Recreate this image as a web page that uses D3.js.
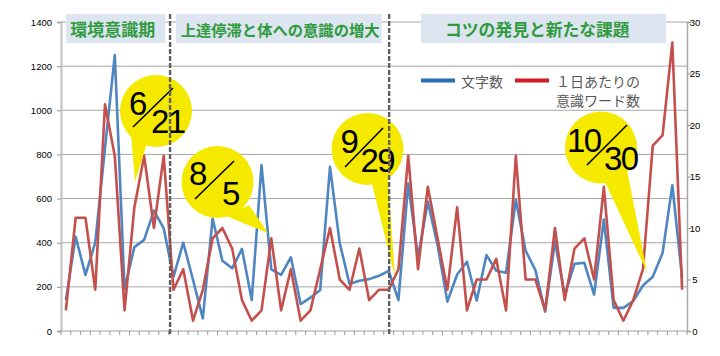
<!DOCTYPE html>
<html><head><meta charset="utf-8">
<script src="https://cdn.jsdelivr.net/npm/d3@7/dist/d3.min.js"></script>
<style>
body{margin:0;background:#fff;}
svg{display:block;}
</style></head>
<body>
<svg id="c" width="720" height="356"></svg>
<script>
// ---- data ----
const charCount = [140,427,254,400,830,1250,190,380,413,545,465,246,400,231,57,510,318,284,372,140,752,279,254,334,122,151,186,744,397,213,228,235,250,272,140,668,334,586,390,133,256,314,138,344,273,264,594,364,276,88,405,163,304,309,165,505,105,105,136,206,246,353,660,242];
const wordsPerDay = [2,11,11,4,22,17,2,12,17,10,17,4,6,1,4,9,10,8,3,1,2,9,2,6,1,2,6,10,5,4,8,3,4,4,6,17,6,14,9,4,12,2,5,5,7,2,17,5,5,2,10,3,8,9,5,14,3,1,3,6,18,19,28,4];
const categories = charCount.map((_, i) => i);
const leftTicks = [0,200,400,600,800,1000,1200,1400];
const rightTicks = [0,5,10,15,20,25,30];
const seriesNames = ["文字数", ["１日あたりの","意識ワード数"]];
const periodNames = ["環境意識期","上達停滞と体への意識の増大","コツの発見と新たな課題"];
const calloutTop = ["6","8","9","10"];
const calloutBottom = ["21","5","29","30"];

// ---- layout ----
const svg = d3.select("#c");
const L = 61, R = 687, T = 22, B = 331;
const x = d3.scaleBand().domain(categories).range([L, R]).padding(0);
const cx = i => x(i) + x.bandwidth()/2;
const yL = d3.scaleLinear().domain([0,1400]).range([B, T]);
const yR = d3.scaleLinear().domain([0,30]).range([B, T]);
const xf = v => L + v * x.bandwidth(); // fractional category position

// gridlines
svg.append("g").selectAll("line").data(leftTicks.filter(d=>d>0)).join("line")
  .attr("x1", L).attr("x2", R).attr("y1", d=>yL(d)).attr("y2", d=>yL(d))
  .attr("stroke", "#a6a6a6").attr("stroke-width", 1);

// left axis
const gL = svg.append("g").attr("transform", `translate(${L},0)`)
  .call(d3.axisLeft(yL).tickValues(leftTicks).tickFormat(d3.format("d")).tickSize(4).tickPadding(5));
gL.select(".domain").attr("stroke", "#bfbfbf").attr("stroke-width", 2);
gL.selectAll(".tick line").attr("stroke", "#999");
gL.selectAll("text").attr("font-family", "Liberation Sans, Arial, sans-serif").attr("font-size", "9.5px").attr("fill", "#000");

// right axis
const gR = svg.append("g").attr("transform", `translate(${R},0)`)
  .call(d3.axisRight(yR).tickValues(rightTicks).tickFormat(d3.format("d")).tickSize(4).tickPadding(3));
gR.select(".domain").attr("stroke", "#a6a6a6").attr("stroke-width", 1.5);
gR.selectAll(".tick line").attr("stroke", "#999");
gR.selectAll("text").attr("font-family", "Liberation Sans, Arial, sans-serif").attr("font-size", "9.5px").attr("fill", "#000")
  .attr("text-anchor", "middle").attr("x", 8);

// bottom axis with band boundary ticks
svg.append("line").attr("x1", L).attr("x2", R).attr("y1", B).attr("y2", B).attr("stroke", "#bfbfbf").attr("stroke-width", 1.5);
svg.append("g").selectAll("line").data(categories.concat([categories.length])).join("line")
  .attr("x1", d=>xf(d)).attr("x2", d=>xf(d)).attr("y1", B).attr("y2", B+4)
  .attr("stroke", "#999").attr("stroke-width", 1);

// header boxes
const periods = [
  {name: periodNames[0], a: 0.5, b: 10.65, size: 17, tc: 5.3},
  {name: periodNames[1], a: 11.75, b: 32.8, size: 15.3, tc: 22.4},
  {name: periodNames[2], a: 36.8, b: 61.85, size: 16.8, tc: 48.7}
];
const hg = svg.append("g");
hg.selectAll("rect").data(periods).join("rect")
  .attr("x", d=>xf(d.a)).attr("width", d=>xf(d.b)-xf(d.a))
  .attr("y", 14).attr("height", 29).attr("fill", "#dde6f0");
hg.selectAll("text").data(periods).join("text")
  .attr("x", d=>xf(d.tc)).attr("y", 35.5).attr("text-anchor", "middle")
  .attr("font-family", "Noto Sans CJK JP, sans-serif").attr("font-weight", "bold")
  .attr("font-size", d=>d.size+"px").attr("fill", "#2f9a3e").text(d=>d.name);

// lines
const lineL = d3.line().x((d,i)=>cx(i)).y(d=>yL(d));
const lineR = d3.line().x((d,i)=>cx(i)).y(d=>yR(d));
svg.append("path").datum(charCount).attr("d", lineL).attr("fill","none")
  .attr("stroke", "#4f86c2").attr("stroke-width", 2.6).attr("stroke-linejoin","round");
svg.append("path").datum(wordsPerDay).attr("d", lineR).attr("fill","none")
  .attr("stroke", "#c4504d").attr("stroke-width", 2.6).attr("stroke-linejoin","round");

// legend
const lg = svg.append("g").attr("font-family", "Noto Sans CJK JP, sans-serif").attr("font-size", "14px").attr("fill", "#595959");
lg.append("line").attr("x1", 421).attr("x2", 455).attr("y1", 80.5).attr("y2", 80.5).attr("stroke", "#2a6db5").attr("stroke-width", 4);
lg.append("text").attr("x", 461).attr("y", 86.5).text(seriesNames[0]);
lg.append("line").attr("x1", 515).attr("x2", 549).attr("y1", 80.5).attr("y2", 80.5).attr("stroke", "#cf1c27").attr("stroke-width", 4);
lg.append("text").attr("x", 556).attr("y", 86.5).text(seriesNames[1][0]);
lg.append("text").attr("x", 556).attr("y", 105.5).text(seriesNames[1][1]);

// callouts
const callouts = [
  {c:[156,111], tail:[[131,133],[147,143],[135,182]], t:[129,115], b:[151,133], s:[[133,127],[173,88]]},
  {c:[217.5,182], tail:[[226,216],[249,205],[268,233]], t:[189,185], b:[222,205], s:[[195,199],[234,161]]},
  {c:[367.5,149], tail:[[372,184],[388,179],[395,277]], t:[340.5,153], b:[360.5,172], s:[[345,167],[383,128]]},
  {c:[601,147.5], tail:[[605,182],[627,170],[647,272]], t:[567,152], b:[604,170], s:[[587,165],[627,125]]}
];
const cg = svg.append("g");
callouts.forEach((d,k)=>{
  const g = cg.append("g");
  g.append("circle").attr("cx", d.c[0]).attr("cy", d.c[1]).attr("r", 36).attr("fill", "#f5e900");
  g.append("path").attr("d", "M"+d.tail.map(p=>p.join(",")).join("L")+"Z").attr("fill", "#f5e900");
  g.append("line").attr("x1", d.s[0][0]).attr("y1", d.s[0][1]).attr("x2", d.s[1][0]).attr("y2", d.s[1][1])
    .attr("stroke", "#000").attr("stroke-width", 1.6);
  const f = "Liberation Sans, Arial, sans-serif";
  g.append("text").attr("x", d.t[0]).attr("y", d.t[1]).attr("font-family", f).attr("font-size", "33px").attr("letter-spacing", "-1.5px").text(calloutTop[k]);
  g.append("text").attr("x", d.b[0]).attr("y", d.b[1]).attr("font-family", f).attr("font-size", "33px").attr("letter-spacing", "-1.5px").text(calloutBottom[k]);
});

// period dividers (dashed)
svg.append("g").selectAll("line").data([11.15, 33.55]).join("line")
  .attr("x1", d=>xf(d)).attr("x2", d=>xf(d)).attr("y1", 14).attr("y2", 336)
  .attr("stroke", "#5f5f5f").attr("stroke-width", 2.4).attr("stroke-dasharray", "5,2");
</script>
</body></html>
